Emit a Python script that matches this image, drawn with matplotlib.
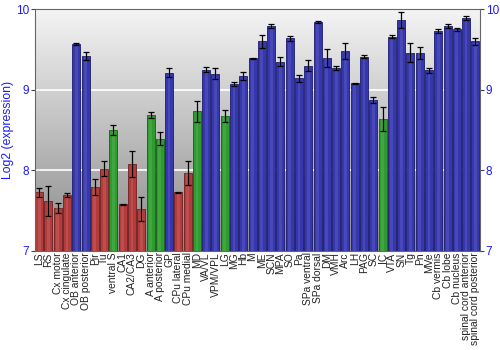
import numpy as np
import matplotlib
matplotlib.use("Agg")
import matplotlib.pyplot as plt

plt.rcParams["font.family"] = ["Liberation Sans", "DejaVu Sans"]

regions = ["LS", "RS", "Cx motor", "Cx cingulate", "OB anterior", "OB posterior",
           "Pir", "Tu", "ventral S", "CA1", "CA2/CA3", "DG", "A anterior",
           "A posterior", "GP", "CPu lateral", "CPu medial", "MD", "VA/VL",
           "VPM/VPL", "LG", "MG", "Hb", "M", "ME", "SCN", "MPA", "SO", "Pa",
           "SPa ventral", "SPa dorsal", "DM", "VMH", "Arc", "LH", "PAG", "SC",
           "IC", "VTA", "SN", "Tg", "Pn", "MVe", "Cb vermis", "Cb lobe",
           "Cb nucleus", "spinal cord anterior", "spinal cord posterior"]
expr = [7.73, 7.62, 7.53, 7.69, 9.57, 9.42, 7.79, 8.02, 8.50, 7.58, 8.08, 7.52,
        8.69, 8.39, 9.21, 7.73, 7.97, 8.73, 9.25, 9.20, 8.67, 9.07, 9.17, 9.39,
        9.60, 9.79, 9.35, 9.64, 9.14, 9.30, 9.84, 9.39, 9.27, 9.48, 9.08, 9.41,
        8.87, 8.64, 9.66, 9.87, 9.46, 9.46, 9.24, 9.73, 9.79, 9.75, 9.89, 9.60]
err = [0.055, 0.19, 0.06, 0.025, 0.01, 0.05, 0.10, 0.09, 0.06, 0.005, 0.165, 0.15,
       0.035, 0.08, 0.055, 0.005, 0.15, 0.135, 0.03, 0.065, 0.075, 0.025, 0.055, 0.005,
       0.08, 0.02, 0.05, 0.03, 0.045, 0.065, 0.01, 0.11, 0.03, 0.095, 0.005, 0.02,
       0.035, 0.15, 0.015, 0.10, 0.12, 0.075, 0.03, 0.025, 0.02, 0.02, 0.03, 0.04]
group = ["r", "r", "r", "r", "b", "b", "r", "r", "g", "r", "r", "r", "g", "g", "b",
         "r", "r", "g", "b", "b", "g"] + ["b"] * 16 + ["g"] + ["b"] * 10

fill = {"r": "#b23c3c", "b": "#3636ad", "g": "#2f9a2f"}
edge = {"r": "#6e1e1e", "b": "#1c1c6a", "g": "#165e16"}
light = {"r": "#d07070", "b": "#6a6ad0", "g": "#60c060"}

fig = plt.figure(figsize=(5, 3.5), dpi=100)
ax = fig.add_axes([0.069, 0.283, 0.891, 0.691])

x = np.arange(len(regions))
ax.set_xlim(-0.5, len(regions) - 0.5)
ax.set_ylim(7, 10)

# background gradient
grad = np.linspace(0, 1, 256).reshape(-1, 1)
ax.imshow(grad, extent=[-0.5, len(regions) - 0.5, 7, 10], aspect="auto",
          cmap=matplotlib.colors.LinearSegmentedColormap.from_list("bg", ["#8a8a8a", "#f4f4f4"]),
          origin="lower", zorder=0)
for yv in [8, 9]:
    ax.axhline(yv, color="white", lw=1.2, zorder=1)

base = 7
cols = [fill[g] for g in group]
ax.bar(x, np.array(expr) - base, bottom=base, width=0.86, color=cols,
       edgecolor=[edge[g] for g in group], linewidth=0.6, zorder=2)
ax.bar(x, np.array(expr) - base, bottom=base, width=0.3,
       color=[light[g] for g in group], alpha=0.35, linewidth=0, zorder=3)
ax.errorbar(x, expr, yerr=err, fmt="none", ecolor="black", elinewidth=0.9,
            capsize=2, capthick=0.9, zorder=4)

ax.set_xticks(x)
ax.set_xticklabels(regions, rotation=90, fontsize=7.4, color="#222222")
ax.tick_params(axis="x", length=0, pad=1)
ax.set_yticks([7, 8, 9, 10])
ax.tick_params(axis="y", labelsize=8.5, labelcolor="#1a1aff", color="#444444",
               length=3, right=True, labelright=True, pad=1)
ax.set_ylabel("Log2 (expression)", color="#1a1aff", fontsize=8.8)
ax.yaxis.set_label_coords(-0.046, 0.5)
for s in ax.spines.values():
    s.set_color("#666666")

fig.savefig("out.png", dpi=100)
